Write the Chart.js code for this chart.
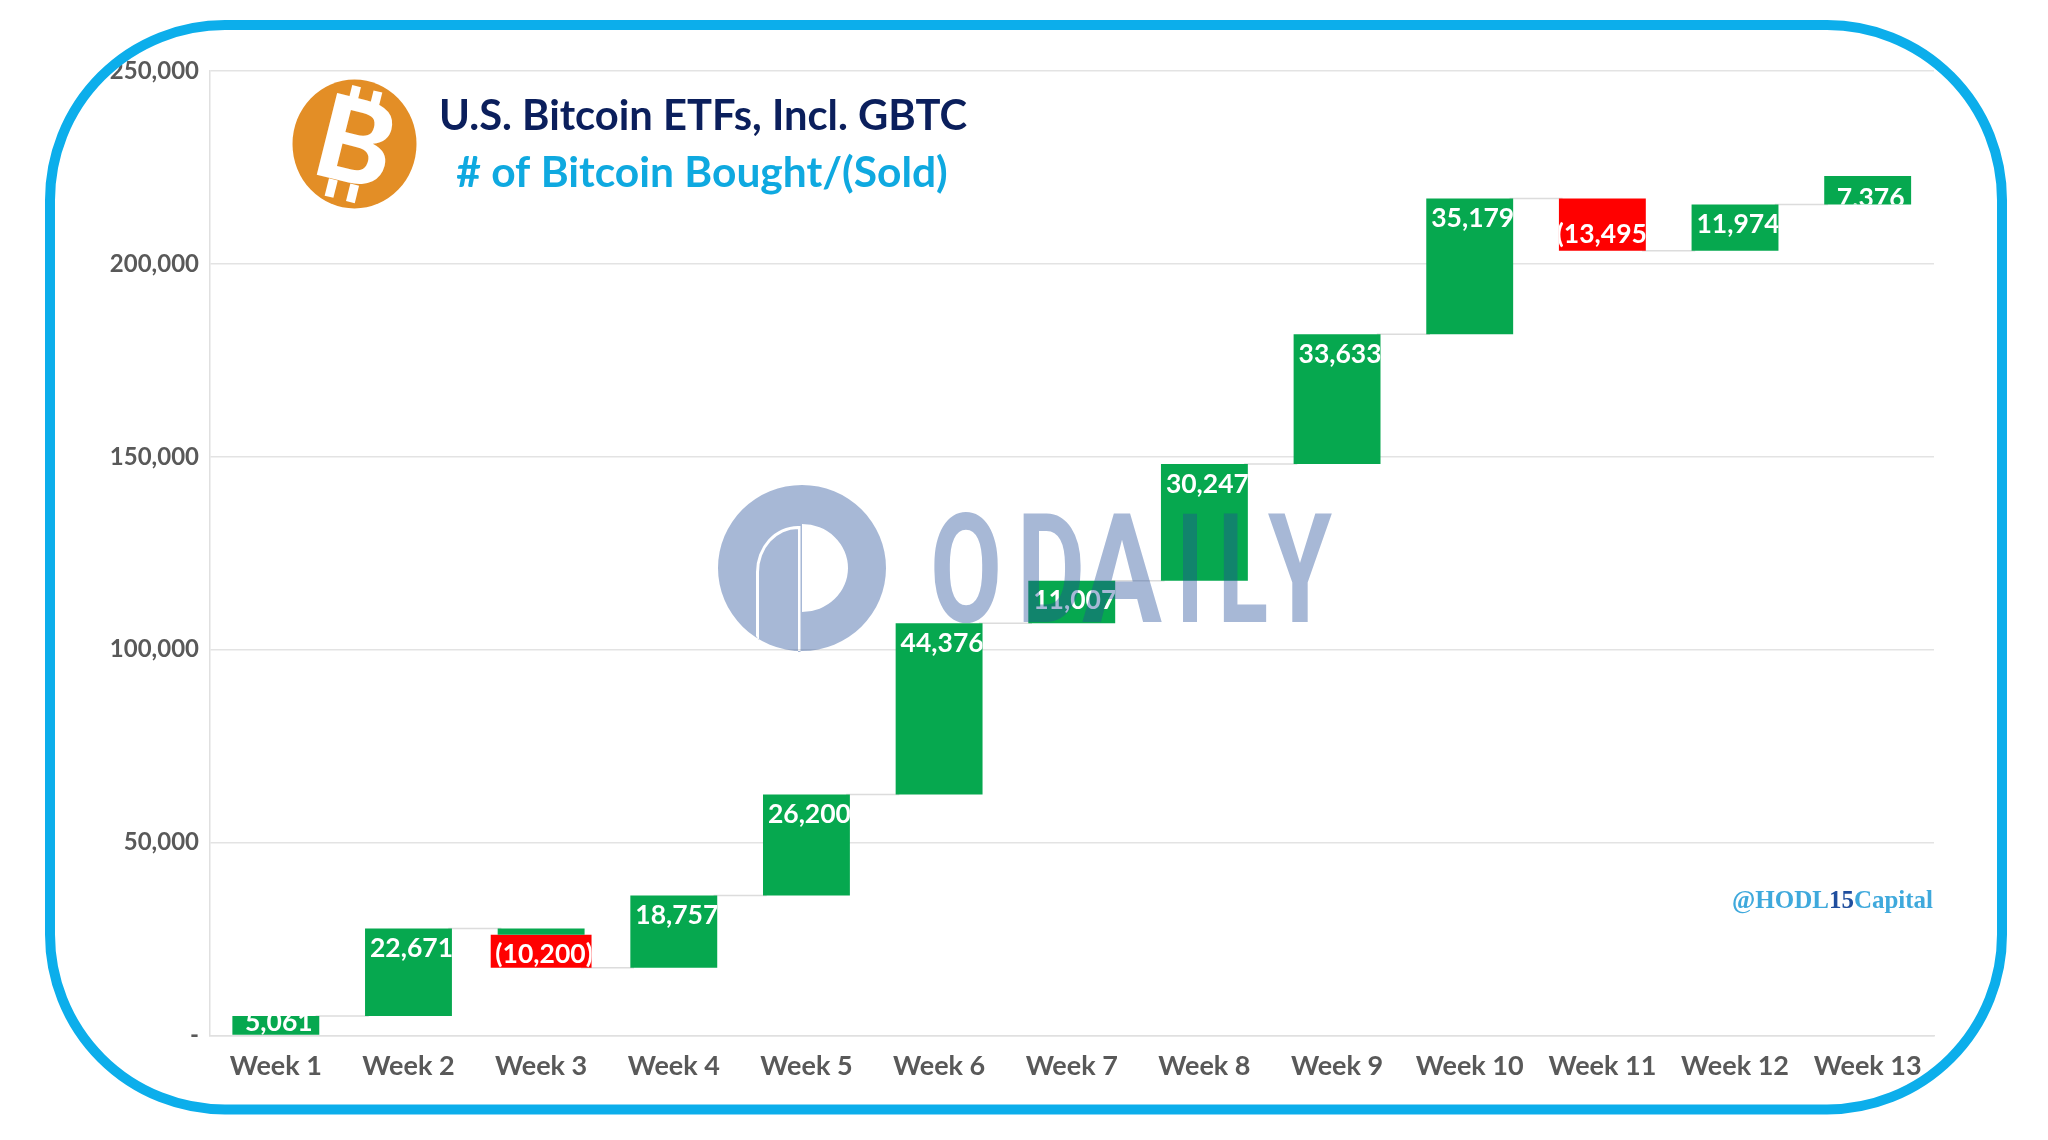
<!DOCTYPE html>
<html>
<head>
<meta charset="utf-8">
<title>U.S. Bitcoin ETFs, Incl. GBTC</title>
<script src="https://cdn.jsdelivr.net/npm/chart.js@4/dist/chart.umd.min.js"></script>
<style>
  html, body { margin: 0; padding: 0; background: #fff; }
  canvas { display: block; filter: blur(0.6px); }
</style>
</head>
<body>
<canvas id="chart" width="2048" height="1140"></canvas>
<script>
const weeks = ["Week 1", "Week 2", "Week 3", "Week 4", "Week 5", "Week 6", "Week 7", "Week 8", "Week 9", "Week 10", "Week 11", "Week 12", "Week 13"];
const flows = [5061, 22671, -10200, 18757, 26200, 44376, 11007, 30247, 33633, 35179, -13495, 11974, 7376];

// floating bars, low and high end of each week
const boughtLow = [0, 5061, 26100, 17532, 36289, 62489, 106865, 117872, 148119, 181752, null, 203436, 215410];
const boughtHigh = [5061, 27732, 27732, 36289, 62489, 106865, 117872, 148119, 181752, 216931, null, 215410, 222786];
const soldLow = [null, null, null, null, null, null, null, null, null, null, 203436, null, null];
const soldHigh = [null, null, null, null, null, null, null, null, null, null, 216931, null, null];
// the week 3 red box is pasted over wider than the others
const pastedLow = [null, null, 17532, null, null, null, null, null, null, null, null, null, null];
const pastedHigh = [null, null, 26100, null, null, null, null, null, null, null, null, null, null];
// level where each week ends, the thin connector runs from here
const closes = [5061, 27732, 17532, 36289, 62489, 106865, 117872, 148119, 181752, 216931, 203436, 215410, 222786];

const yTicks = [0, 50000, 100000, 150000, 200000, 250000];

const GREEN = "#06a84f";
const RED = "#ff0000";
const BLUE = "#0caeeb";
const FONT = "Lato";

function pairs(low, high) {
  return low.map((v, i) => (v === null ? null : [v, high[i]]));
}

function flowText(v) {
  const s = Math.abs(v).toLocaleString("en-US");
  return v < 0 ? "(" + s + ")" : s;
}

const connectors = {
  id: "connectors",
  beforeDatasetsDraw(chart) {
    const { ctx, scales } = chart;
    const half = scales.x.getPixelForValue(1) - scales.x.getPixelForValue(0);
    ctx.save();
    ctx.strokeStyle = "#dcdcdc";
    ctx.lineWidth = 1.5;
    closes.slice(0, -1).forEach((v, i) => {
      const y = scales.y.getPixelForValue(v);
      ctx.beginPath();
      ctx.moveTo(scales.x.getPixelForValue(i) + half * 0.3, y);
      ctx.lineTo(scales.x.getPixelForValue(i + 1) - half * 0.3, y);
      ctx.stroke();
    });
    ctx.restore();
  }
};

const barLabels = {
  id: "barLabels",
  afterDatasetsDraw(chart) {
    const { ctx } = chart;
    const drops = { 0: 6, 10: 36, 12: 22 }; // these sit away from the usual spot
    chart.data.datasets.forEach((ds, d) => {
      chart.getDatasetMeta(d).data.forEach((bar, i) => {
        if (ds.data[i] === null || (flows[i] < 0) !== ds.negative) return;
        const p = bar.getProps(["x", "y", "base", "width"], true);
        const top = Math.min(p.y, p.base);
        const bottom = Math.max(p.y, p.base);
        ctx.save();
        ctx.beginPath();
        ctx.rect(p.x - p.width / 2, top, p.width, bottom - top);
        ctx.clip();
        ctx.fillStyle = "#fff";
        ctx.font = "bold 26.5px " + FONT;
        ctx.textAlign = "center";
        ctx.textBaseline = "middle";
        const drop = drops[i] !== undefined ? drops[i] : 20;
        ctx.fillText(flowText(flows[i]), p.x + 3, top + drop);
        ctx.restore();
      });
    });
  }
};

function drawWatermark(ctx) {
  ctx.save();
  ctx.fillStyle = "rgba(35,77,152,0.4)";
  ctx.beginPath();
  ctx.ellipse(802, 568, 84, 83, 0, 0, Math.PI * 2);
  // right half of the hole
  ctx.moveTo(802, 525);
  ctx.ellipse(802, 568, 46, 44, 0, -Math.PI / 2, Math.PI / 2);
  ctx.closePath();
  // the two white slits
  ctx.rect(798, 526, 2.5, 126);
  ctx.moveTo(756, 636);
  ctx.lineTo(756, 572);
  ctx.ellipse(798, 572, 42, 46, 0, Math.PI, Math.PI * 1.5);
  ctx.lineTo(798, 529);
  ctx.ellipse(798, 572, 39, 43, 0, Math.PI * 1.5, Math.PI, true);
  ctx.lineTo(759, 640);
  ctx.closePath();
  ctx.fill("evenodd");

  // letters placed one by one, the logo type is wider spaced than any font here
  ctx.font = "bold 152px Roboto";
  ctx.textAlign = "left";
  ctx.textBaseline = "alphabetic";
  [["O", 930, 72], ["D", 1017, 68], ["A", 1082, 80], ["I", 1176, 28], ["L", 1218, 50], ["Y", 1268, 64]].forEach(([c, x, w]) => {
    ctx.fillText(c, x, 622, w);
  });
  ctx.restore();
}

function drawLogo(ctx) {
  ctx.save();
  ctx.fillStyle = "#e38e26";
  ctx.beginPath();
  ctx.ellipse(354.5, 144, 62, 64.5, 0, 0, Math.PI * 2);
  ctx.fill();
  ctx.translate(353, 144);
  ctx.rotate(14 * Math.PI / 180);
  ctx.fillStyle = "#fff";
  ctx.font = "900 116px " + FONT;
  ctx.textAlign = "center";
  ctx.textBaseline = "middle";
  ctx.fillText("B", 2, 1);
  [-15, 7].forEach((x) => {
    ctx.fillRect(x, -57, 9, 18);
    ctx.fillRect(x, 39, 9, 18);
  });
  ctx.restore();
}

const overlay = {
  id: "overlay",
  afterDraw(chart) {
    const { ctx } = chart;
    drawWatermark(ctx);
    drawLogo(ctx);

    ctx.save();
    ctx.textAlign = "center";
    ctx.textBaseline = "middle";
    ctx.font = "bold 42px " + FONT;
    ctx.fillStyle = "#0b1f5c";
    ctx.fillText("U.S. Bitcoin ETFs, Incl. GBTC", 703, 116, 528);
    ctx.font = "bold 42.5px " + FONT;
    ctx.fillStyle = "#0fa9e0";
    ctx.fillText("# of Bitcoin Bought/(Sold)", 702, 173, 495);

    // signature, the 15 is darker
    ctx.textAlign = "left";
    ctx.font = "bold 25px 'Liberation Serif'";
    let x = 1732;
    [["@HODL", "#3fa9dc"], ["15", "#1f4e9e"], ["Capital", "#3fa9dc"]].forEach(([t, c]) => {
      ctx.fillStyle = c;
      ctx.fillText(t, x, 902);
      x += ctx.measureText(t).width;
    });

    ctx.strokeStyle = BLUE;
    ctx.lineWidth = 10;
    ctx.beginPath();
    ctx.roundRect(50, 25, 1952, 1084.5, 175);
    ctx.stroke();
    ctx.restore();
  }
};

new Chart(document.getElementById("chart"), {
  type: "bar",
  data: {
    labels: weeks,
    datasets: [
      { data: pairs(boughtLow, boughtHigh), backgroundColor: GREEN, barPercentage: 0.655, categoryPercentage: 1, grouped: false, negative: false },
      { data: pairs(soldLow, soldHigh), backgroundColor: RED, barPercentage: 0.655, categoryPercentage: 1, grouped: false, negative: true },
      { data: pairs(pastedLow, pastedHigh), backgroundColor: RED, barPercentage: 0.76, categoryPercentage: 1, grouped: false, negative: true }
    ]
  },
  options: {
    responsive: false,
    devicePixelRatio: 1,
    animation: false,
    layout: { padding: { top: 71, right: 114, left: 0, bottom: 0 } },
    plugins: { legend: { display: false }, tooltip: { enabled: false } },
    scales: {
      x: {
        afterFit(scale) { scale.height = 104.5; },
        grid: { display: false, drawTicks: false },
        border: { color: "#e0e0e0", width: 1.5 },
        ticks: { color: "#595959", font: { family: FONT, size: 27, weight: "bold" }, padding: 15, maxRotation: 0, autoSkip: false }
      },
      y: {
        min: 0,
        max: 250000,
        afterFit(scale) { scale.width = 209.5; },
        afterBuildTicks(scale) { scale.ticks = yTicks.map((value) => ({ value })); },
        grid: { color: "#e3e3e3", lineWidth: 1.5, drawTicks: false },
        border: { color: "#e0e0e0", width: 1.5 },
        ticks: {
          color: "#595959",
          font: { family: FONT, size: 24, weight: "bold" },
          padding: 10.5,
          callback: (v) => (v === 0 ? "-" : v.toLocaleString("en-US"))
        }
      }
    }
  },
  plugins: [connectors, barLabels, overlay]
});
</script>
</body>
</html>
